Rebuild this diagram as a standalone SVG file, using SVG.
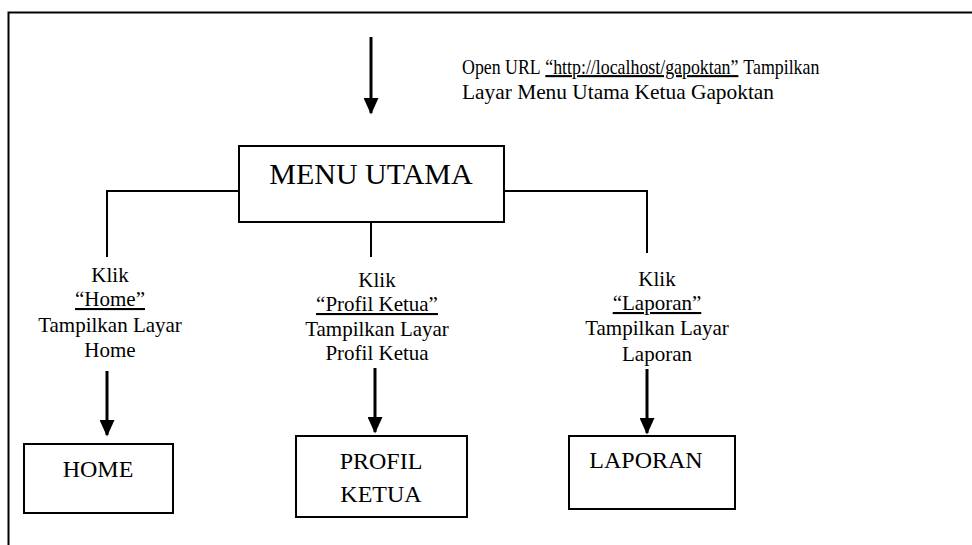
<svg xmlns="http://www.w3.org/2000/svg" width="972" height="545" viewBox="0 0 972 545">
<style>
text{font-family:"Liberation Serif","Times New Roman",serif;fill:#000}
.lbl{font-size:21px}
.box{fill:#fff;stroke:#000;stroke-width:2}
.ln{fill:none;stroke:#000;stroke-width:2}
.ar{fill:none;stroke:#000;stroke-width:3}
.u{text-decoration:underline}
</style>
<defs>
<marker id="ah" markerWidth="6" markerHeight="5" refX="5" refY="2.5" orient="auto" markerUnits="strokeWidth">
<path d="M0,0 L5.5,2.5 L0,5 z" fill="#000"/>
</marker>
</defs>
<g id="frame">
<path d="M8.5,545 V12.5 H972" fill="none" stroke="#000" stroke-width="2"/>
</g>
<g id="connectors">
<line class="ar" x1="371" y1="37" x2="371" y2="113" marker-end="url(#ah)"/>
<path class="ln" d="M239,191 H107 V257"/>
<path class="ln" d="M371,222 V257"/>
<path class="ln" d="M504,191 H647 V253"/>
<line class="ar" x1="107" y1="371" x2="107" y2="435" marker-end="url(#ah)"/>
<line class="ar" x1="375" y1="368" x2="375" y2="432" marker-end="url(#ah)"/>
<line class="ar" x1="647" y1="369" x2="647" y2="433" marker-end="url(#ah)"/>
</g>
<g id="open-url-label">
<g transform="translate(462,74) scale(0.85,1)">
<text class="lbl" x="0" y="0">Open URL</text>
<text class="lbl u" x="98" y="0">“http://localhost/gapoktan”</text>
<text class="lbl" x="331" y="0">Tampilkan</text>
</g>
<text class="lbl" x="462" y="99" textLength="312" lengthAdjust="spacingAndGlyphs">Layar Menu Utama Ketua Gapoktan</text>
</g>
<g id="menu-utama">
<rect class="box" x="239" y="146" width="265" height="76"/>
<text x="371" y="184" font-size="30" text-anchor="middle">MENU UTAMA</text>
</g>
<g id="label-home" text-anchor="middle">
<text class="lbl" x="110" y="282">Klik</text>
<text class="lbl u" x="110" y="306">“Home”</text>
<text class="lbl" x="110" y="332">Tampilkan Layar</text>
<text class="lbl" x="110" y="357">Home</text>
</g>
<g id="label-profil" text-anchor="middle">
<text class="lbl" x="377" y="287">Klik</text>
<text class="lbl u" x="377" y="311">“Profil Ketua”</text>
<text class="lbl" x="377" y="336">Tampilkan Layar</text>
<text class="lbl" x="377" y="360">Profil Ketua</text>
</g>
<g id="label-laporan" text-anchor="middle">
<text class="lbl" x="657" y="286">Klik</text>
<text class="lbl u" x="657" y="310">“Laporan”</text>
<text class="lbl" x="657" y="335">Tampilkan Layar</text>
<text class="lbl" x="657" y="361">Laporan</text>
</g>
<g id="home">
<rect class="box" x="24" y="444" width="149" height="69"/>
<text x="98" y="477" font-size="24" text-anchor="middle">HOME</text>
</g>
<g id="profil-ketua">
<rect class="box" x="296" y="436" width="171" height="81"/>
<text x="381" y="469" font-size="24" text-anchor="middle">PROFIL</text>
<text x="381" y="502" font-size="24" text-anchor="middle">KETUA</text>
</g>
<g id="laporan">
<rect class="box" x="569" y="436" width="166" height="73"/>
<text x="646" y="468" font-size="24" text-anchor="middle">LAPORAN</text>
</g>
</svg>
